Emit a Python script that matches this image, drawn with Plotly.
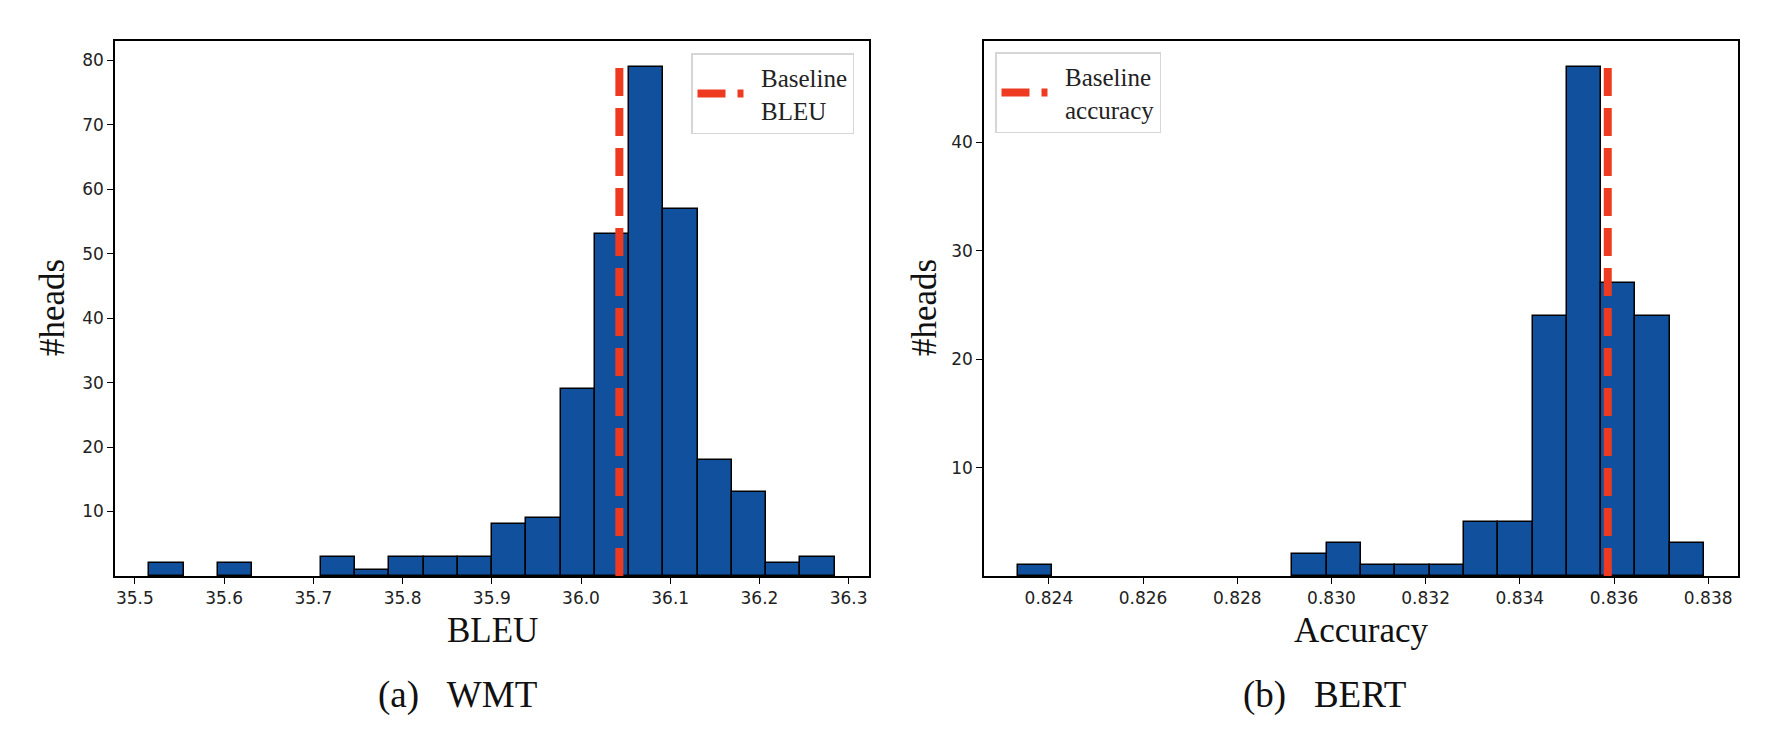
import numpy as np
import plotly.graph_objects as go

# ---------------- data ----------------
# (a) WMT: histogram of BLEU when pruning a single head
wmt_bin_start = 35.5162
wmt_bin_width = 0.03841
wmt_counts = [2, 0, 2, 0, 0, 3, 1, 3, 3, 3, 8, 9, 29, 53, 79, 57, 18, 13, 2, 3]
wmt_baseline = 36.043
wmt_xticks = [35.5, 35.6, 35.7, 35.8, 35.9, 36.0, 36.1, 36.2, 36.3]
wmt_xticklabels = ["35.5", "35.6", "35.7", "35.8", "35.9", "36.0", "36.1", "36.2", "36.3"]
wmt_yticks = [10, 20, 30, 40, 50, 60, 70, 80]

# (b) BERT: histogram of accuracy when pruning a single head
bert_bin_start = 0.823344
bert_bin_width = 0.00072835
bert_counts = [1, 0, 0, 0, 0, 0, 0, 0, 2, 3, 1, 1, 1, 5, 5, 24, 47, 27, 24, 3]
bert_baseline = 0.835867
bert_xticks = [0.824, 0.826, 0.828, 0.830, 0.832, 0.834, 0.836, 0.838]
bert_xticklabels = ["0.824", "0.826", "0.828", "0.830", "0.832", "0.834", "0.836", "0.838"]
bert_yticks = [10, 20, 30, 40]

# ---------------- style ----------------
W, H = 1768, 750
BAR = "#11509c"
RED = "#ef3a22"
SERIF = "Liberation Serif, Times New Roman, serif"
TICKFONT = dict(family="DejaVu Sans, sans-serif", size=17, color="#222222")
PAD = "\u00a0\u00a0"


def px_x(p):
    return p / W


def px_y(p):
    return 1 - p / H


def centers(start, width, counts):
    edges = start + width * np.arange(len(counts) + 1)
    return (edges[:-1] + edges[1:]) / 2


def edge_widths(counts):
    return [1.5 if c > 0 else 0 for c in counts]


fig = go.Figure()

fig.add_trace(go.Bar(
    x=centers(wmt_bin_start, wmt_bin_width, wmt_counts), y=wmt_counts,
    width=wmt_bin_width,
    marker=dict(color=BAR, line=dict(color="black", width=edge_widths(wmt_counts))),
    showlegend=False, xaxis="x", yaxis="y"))
fig.add_trace(go.Scatter(
    x=[wmt_baseline, wmt_baseline], y=[0, max(wmt_counts)], mode="lines",
    line=dict(color=RED, width=8, dash="28px,12px"),
    name=PAD + "Baseline<br>" + PAD + "BLEU", xaxis="x", yaxis="y", legend="legend"))

fig.add_trace(go.Bar(
    x=centers(bert_bin_start, bert_bin_width, bert_counts), y=bert_counts,
    width=bert_bin_width,
    marker=dict(color=BAR, line=dict(color="black", width=edge_widths(bert_counts))),
    showlegend=False, xaxis="x2", yaxis="y2"))
fig.add_trace(go.Scatter(
    x=[bert_baseline, bert_baseline], y=[0, max(bert_counts)], mode="lines",
    line=dict(color=RED, width=8, dash="28px,12px"),
    name=PAD + "Baseline<br>" + PAD + "accuracy", xaxis="x2", yaxis="y2", legend="legend2"))

axis_common = dict(showline=True, linecolor="black", linewidth=1.5, mirror=True,
                   ticks="outside", ticklen=6, tickwidth=1.2, tickcolor="black",
                   tickfont=TICKFONT, showgrid=False, zeroline=False)

legend_common = dict(xanchor="left", yanchor="top", bgcolor="white",
                     bordercolor="#d6d6d6", borderwidth=1.5, itemwidth=46,
                     tracegroupgap=0,
                     font=dict(family=SERIF, size=25, color="#222222"))

ydom = [px_y(568), px_y(33)]
fig.update_layout(
    width=W, height=H, autosize=False,
    margin=dict(l=0, r=0, t=0, b=0),
    paper_bgcolor="white", plot_bgcolor="white",
    bargap=0,
    xaxis=dict(domain=[px_x(107), px_x(861)], range=[35.4777, 36.3228],
               tickvals=wmt_xticks, ticktext=wmt_xticklabels, anchor="y", **axis_common),
    yaxis=dict(domain=ydom, range=[0, 83.0], tickvals=wmt_yticks, anchor="x", **axis_common),
    xaxis2=dict(domain=[px_x(976), px_x(1730)], range=[0.822622, 0.838633],
                tickvals=bert_xticks, ticktext=bert_xticklabels, anchor="y2", **axis_common),
    yaxis2=dict(domain=ydom, range=[0, 49.37], tickvals=bert_yticks, anchor="x2", **axis_common),
    legend=dict(x=px_x(683), y=px_y(45), **legend_common),
    legend2=dict(x=px_x(987), y=px_y(44), **legend_common),
)

annots = [
    dict(text="BLEU", x=px_x(484), y=px_y(622), size=35),
    dict(text="Accuracy", x=px_x(1353), y=px_y(622), size=35),
    dict(text="#heads", x=px_x(44), y=px_y(300), size=35, angle=-90),
    dict(text="#heads", x=px_x(916), y=px_y(300), size=35, angle=-90),
    dict(text="(a)\u00a0\u00a0\u00a0WMT", x=px_x(449), y=px_y(687), size=37),
    dict(text="(b)\u00a0\u00a0\u00a0BERT", x=px_x(1316), y=px_y(687), size=37),
]
for a in annots:
    fig.add_annotation(text=a["text"], x=a["x"], y=a["y"], xref="paper", yref="paper",
                       xanchor="center", yanchor="middle", showarrow=False,
                       textangle=a.get("angle", 0),
                       font=dict(family=SERIF, size=a["size"], color="#111111"))

fig.write_html("out.html")
